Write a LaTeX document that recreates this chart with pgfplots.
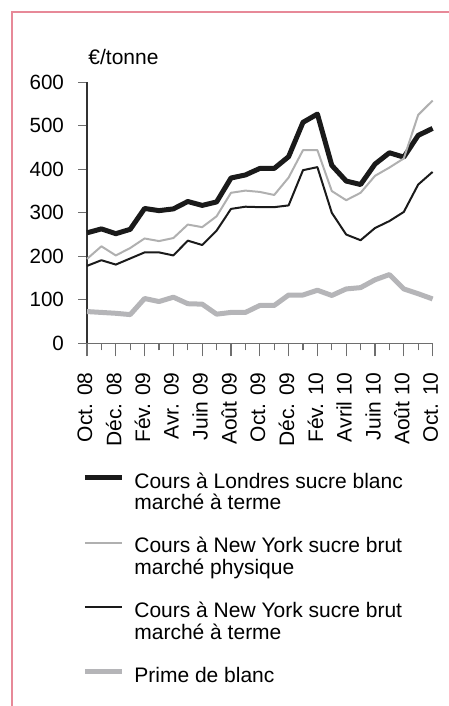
\documentclass[border=0pt]{standalone}
\usepackage{fontspec}
\setmainfont{Liberation Sans}
\usepackage{pgfplots}
\usepackage{pgfplotstable}
\pgfplotsset{compat=1.18}
\definecolor{borderred}{RGB}{231,137,152}
\definecolor{lgray}{RGB}{176,176,176}
\definecolor{pgray}{RGB}{181,181,184}
\definecolor{dblack}{RGB}{26,26,26}
\definecolor{tickgray}{RGB}{110,110,110}
\pgfplotstableread{
i london nyphys nyterme prime
0 254 194 178 73
1 263 223 191 71
2 252 202 181 69
3 262 219 195 66
4 310 241 209 103
5 305 235 209 96
6 309 242 202 106
7 326 273 236 91
8 317 267 226 90
9 325 292 259 67
10 380 346 309 71
11 387 351 314 71
12 402 348 313 87
13 402 341 313 87
14 429 381 317 111
15 508 444 398 111
16 527 444 405 122
17 409 350 300 110
18 373 329 250 125
19 365 346 237 128
20 412 385 265 146
21 438 404 281 158
22 428 425 302 125
23 478 525 365 114
24 494 558 394 102
}\data
\newcommand{\ls}{\rule[-3pt]{0pt}{8.5pt}}
\begin{document}
\begin{tikzpicture}
\useasboundingbox (0,0) rectangle (224.5pt,-353pt);
\draw[color=borderred, line width=1pt] (6pt,-353pt) -- (6pt,-6pt) -- (224.5pt,-6pt);
\begin{axis}[
  at={(43.5pt,-171.65pt)}, anchor=south west,
  scale only axis, width=172.8pt, height=130.5pt,
  xmin=0, xmax=24, ymin=0, ymax=600,
  axis lines=left, axis line style={-, color=tickgray, line width=0.6pt},
  y axis line style={color=black!80},
  tick align=outside,
  major tick length=4.5pt,
  xtick={0,2,...,24}, minor xtick={1,3,...,23},
  xtick style={/pgfplots/major tick length=6.5pt,/pgfplots/minor tick length=3.5pt, color=tickgray, line width=0.6pt},
  ytick={0,100,...,600},
  ytick style={color=tickgray, line width=0.6pt},
  xticklabels={Oct. 08,Déc. 08,Fév. 09,Avr. 09,Juin 09,Août 09,Oct. 09,Déc. 09,Fév. 10,Avril 10,Juin 10,Août 10,Oct. 10},
  xticklabel style={xshift=-1pt, yshift=-6.5pt, rotate=90, anchor=east, font=\fontsize{10.5pt}{12pt}\selectfont},
  yticklabel style={xshift=-3.5pt, font=\fontsize{10.3pt}{12pt}\selectfont},
  /pgf/number format/assume math mode=true,
  legend style={at={(axis description cs:-0.0145,-0.4778)}, anchor=north west, draw=none, fill=none, inner sep=0pt,
    cells={anchor=north west, align=left, inner sep=0pt, font=\fontsize{10.5pt}{10.85pt}\selectfont},
    row sep=8.05pt, column sep=3pt},
  legend image code/.code={\draw[#1] (0pt,-4.74pt) -- (18.5pt,-4.74pt);},
  clip=false,
]
\addplot[dblack, line width=2.5pt, line join=round] table[x=i, y=london] {\data};
\addlegendentry{\ls Cours à Londres sucre blanc\\\ls marché à terme}
\addplot[lgray, line width=1pt, line join=round] table[x=i, y=nyphys] {\data};
\addlegendentry{\ls Cours à New York sucre brut\\\ls marché physique}
\addplot[dblack, line width=1pt, line join=round] table[x=i, y=nyterme] {\data};
\addlegendentry{\ls Cours à New York sucre brut\\\ls marché à terme}
\addplot[pgray, line width=2.5pt, line join=round] table[x=i, y=prime] {\data};
\addlegendentry{\ls Prime de blanc\\\ls}
\end{axis}
\node[anchor=base west, inner sep=0pt, font=\fontsize{10.5pt}{12pt}\selectfont] at (44pt,-32.5pt) {€/tonne};
\end{tikzpicture}
\end{document}
